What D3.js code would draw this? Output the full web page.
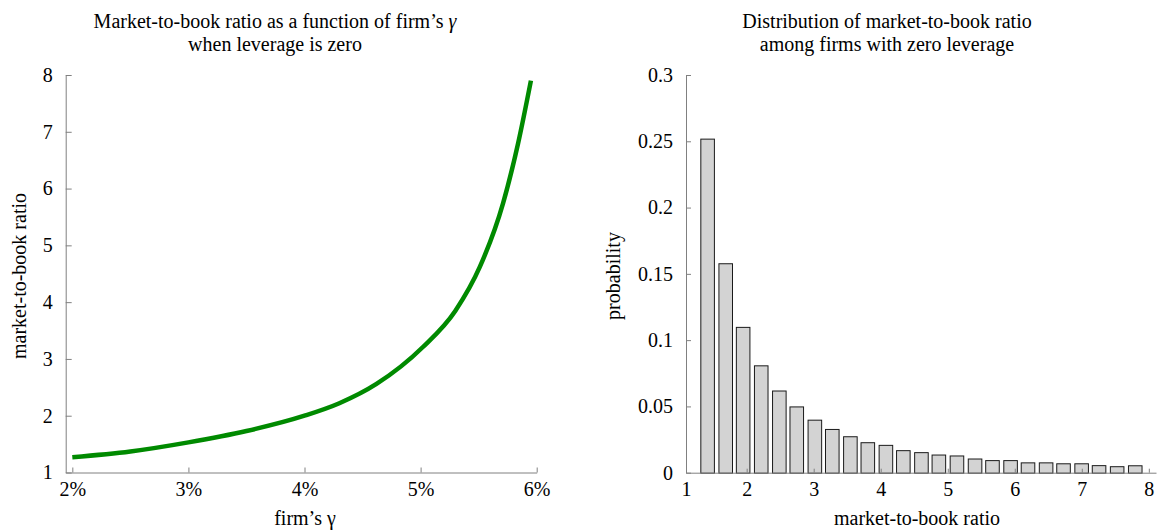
<!DOCTYPE html>
<html>
<head>
<meta charset="utf-8">
<script src="https://cdn.jsdelivr.net/npm/d3@7"></script>
<style>
  body { margin: 0; background: #fff; }
  text { font-family: "Liberation Serif", serif; fill: #000; }
</style>
</head>
<body>
<div id="chart"></div>
<script>
// left panel: market-to-book ratio against firm's gamma (percent)
const gammaPct = [2.00, 2.50, 3.00, 3.50, 4.00, 4.30, 4.62, 5.02, 5.30, 5.51, 5.71, 5.84, 5.95];
const mtbRatio = [1.27, 1.37, 1.53, 1.73, 2.00, 2.22, 2.56, 3.21, 3.85, 4.62, 5.74, 6.80, 7.90];
const gammaTicks = [2, 3, 4, 5, 6];
const ratioTicks = [1, 2, 3, 4, 5, 6, 7, 8];

// right panel: histogram of market-to-book ratio
const binCenters = [1.41, 1.68, 1.94, 2.21, 2.48, 2.74, 3.01, 3.27, 3.54, 3.80, 4.07, 4.33, 4.60,
                    4.86, 5.13, 5.40, 5.66, 5.93, 6.19, 6.46, 6.72, 6.99, 7.25, 7.52, 7.79];
const probs = [0.252, 0.158, 0.110, 0.081, 0.062, 0.050, 0.040, 0.033, 0.0275, 0.023, 0.021, 0.017, 0.0155,
               0.0137, 0.013, 0.0107, 0.0095, 0.0095, 0.0078, 0.0078, 0.0071, 0.0071, 0.0057, 0.0049, 0.0056];
const binTicks = [1, 2, 3, 4, 5, 6, 7, 8];
const probTicks = [0, 0.05, 0.1, 0.15, 0.2, 0.25, 0.3];

const fontSize = 20;

const svg = d3.select("#chart")
              .append("svg")
              .attr("width", 1157)
              .attr("height", 530);

drawLeft();
drawRight();

function styleAxis(g) {
  g.select(".domain").attr("stroke", "#808080");
  g.selectAll(".tick line").attr("stroke", "#808080");
  g.selectAll(".tick text").attr("font-size", fontSize).attr("fill", "#000");
}

function drawTitle(cx, lines) {
  const t = svg.append("text")
               .attr("text-anchor", "middle")
               .attr("font-size", fontSize);
  lines.forEach((ln, i) => {
    const ts = t.append("tspan").attr("x", cx).attr("y", 28 + i * 23);
    ln.forEach((part) => {
      ts.append("tspan").text(part.t).attr("font-style", part.i ? "italic" : null);
    });
  });
}

function drawLeft() {
  const x = d3.scaleLinear().domain([1.943, 6]).range([65.7, 536.7]);
  const y = d3.scaleLinear().domain([1, 8]).range([472.5, 75]);

  const line = d3.line()
                 .x((d, i) => x(gammaPct[i]))
                 .y((d, i) => y(mtbRatio[i]))
                 .curve(d3.curveMonotoneX);

  svg.append("path")
     .datum(gammaPct)
     .attr("d", line)
     .attr("fill", "none")
     .attr("stroke", "#008a00")
     .attr("stroke-width", 4.5);

  const gx = svg.append("g")
                .attr("transform", "translate(0," + y(1) + ")")
                .call(d3.axisBottom(x).tickValues(gammaTicks).tickFormat(d => d + "%")
                        .tickSizeInner(-5).tickSizeOuter(0).tickPadding(9));
  styleAxis(gx);

  const gy = svg.append("g")
                .attr("transform", "translate(" + x.range()[0] + ",0)")
                .call(d3.axisLeft(y).tickValues(ratioTicks).tickFormat(d3.format("d"))
                        .tickSizeInner(-6).tickSizeOuter(0).tickPadding(13));
  styleAxis(gy);

  drawTitle(275, [[{t: "Market-to-book ratio as a function of firm\u2019s "}, {t: "\u03b3", i: true}],
                  [{t: "when leverage is zero"}]]);

  svg.append("text")
     .attr("x", 305).attr("y", 525)
     .attr("text-anchor", "middle").attr("font-size", fontSize)
     .text("firm\u2019s \u03b3");

  svg.append("text")
     .attr("transform", "translate(26,276) rotate(-90)")
     .attr("text-anchor", "middle").attr("font-size", fontSize)
     .text("market-to-book ratio");
}

function drawRight() {
  const x = d3.scaleLinear().domain([1.095, 8.107]).range([686, 1156]).clamp(true);
  const y = d3.scaleLinear().domain([0, 0.3]).range([472.7, 75]);
  const barW = (binCenters[1] - binCenters[0]) * 0.75;

  svg.append("g")
     .selectAll("rect")
     .data(probs)
     .join("rect")
     .attr("x", (d, i) => x(binCenters[i] - barW / 2) + 0.5)
     .attr("y", d => y(d) + 0.5)
     .attr("width", (d, i) => x(binCenters[i] + barW / 2) - x(binCenters[i] - barW / 2))
     .attr("height", d => y(0) - y(d))
     .attr("fill", "#d3d3d3")
     .attr("stroke", "#1a1a1a")
     .attr("stroke-width", 1);

  const gx = svg.append("g")
                .attr("transform", "translate(0," + y(0) + ")")
                .call(d3.axisBottom(x).tickValues(binTicks).tickFormat(d3.format("d"))
                        .tickSizeInner(-4).tickSizeOuter(0).tickPadding(9));
  styleAxis(gx);

  const gy = svg.append("g")
                .attr("transform", "translate(" + x.range()[0] + ",0)")
                .call(d3.axisLeft(y).tickValues(probTicks).tickFormat(d => d === 0 ? "0" : String(d))
                        .tickSizeInner(-5).tickSizeOuter(0).tickPadding(13));
  styleAxis(gy);

  drawTitle(887, [[{t: "Distribution of market-to-book ratio"}],
                  [{t: "among firms with zero leverage"}]]);

  svg.append("text")
     .attr("x", 917).attr("y", 525)
     .attr("text-anchor", "middle").attr("font-size", fontSize)
     .text("market-to-book ratio");

  svg.append("text")
     .attr("transform", "translate(620,276) rotate(-90)")
     .attr("text-anchor", "middle").attr("font-size", fontSize)
     .text("probability");
}
</script>
</body>
</html>
